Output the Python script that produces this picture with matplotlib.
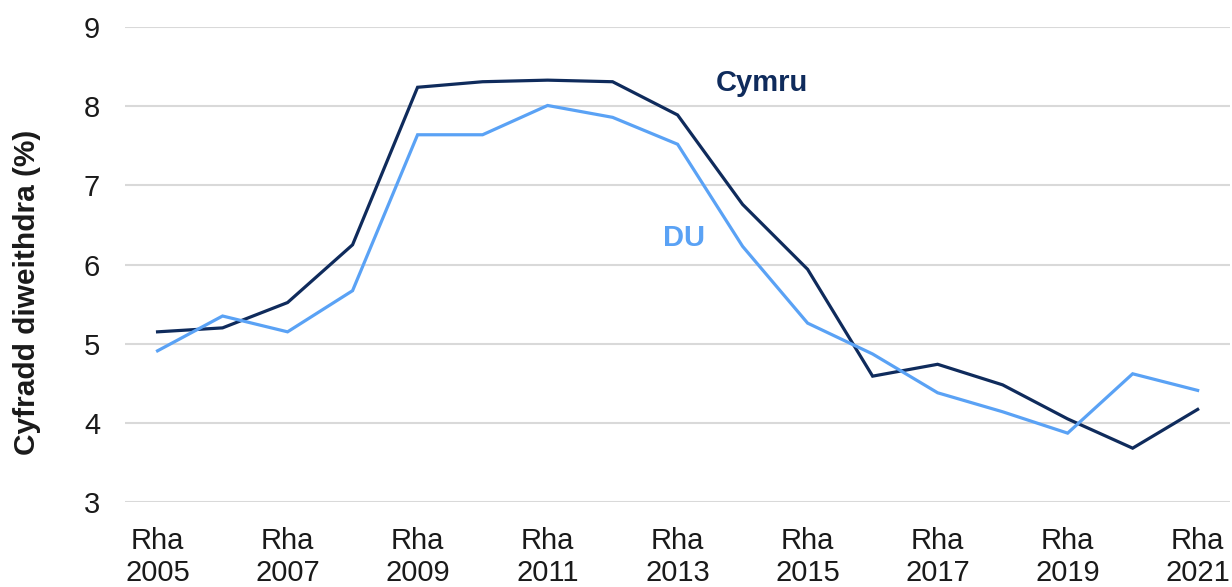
import matplotlib.pyplot as plt
import numpy as np

plt.rcParams['font.family'] = ['Liberation Sans', 'DejaVu Sans']

# Data
years = list(range(2005, 2022))
cymru = [5.15, 5.20, 5.52, 6.25, 8.24, 8.31, 8.33, 8.31, 7.89, 6.76, 5.94,
         4.59, 4.74, 4.48, 4.05, 3.68, 4.17]
du = [4.91, 5.35, 5.15, 5.67, 7.64, 7.64, 8.01, 7.86, 7.52, 6.23, 5.26,
      4.87, 4.38, 4.14, 3.87, 4.62, 4.41]
tick_labels = ['Rha\n%d' % y for y in years[::2]]

c_cymru = '#0f2b5c'
c_du = '#5aa2f5'

fig = plt.figure(figsize=(12.32, 5.87), dpi=100)
ax = fig.add_axes([0.1015, 0.1448, 0.897, 0.809])

x = np.arange(len(years))
ax.plot(x, cymru, color=c_cymru, lw=2.3, solid_joinstyle='miter')
ax.plot(x, du, color=c_du, lw=2.3, solid_joinstyle='miter')

ax.set_xlim(-0.5, len(years) - 0.5)
ax.set_ylim(3, 9)
ax.set_yticks(range(3, 10))
ax.set_xticks(x[::2])
ax.set_xticklabels(tick_labels, linespacing=1.2)
ax.tick_params(axis='both', length=0, labelsize=21, labelcolor='#1a1a1a')
ax.tick_params(axis='x', pad=18)
ax.tick_params(axis='y', pad=18)

ax.grid(axis='y', color='#d9d9d9', lw=1.5)
ax.set_axisbelow(True)
for s in ax.spines.values():
    s.set_visible(False)

ax.set_ylabel('Cyfradd diweithdra (%)', fontsize=21.5, fontweight='bold',
              color='#1a1a1a')
ax.yaxis.set_label_coords(-0.076, 0.442)

ax.text(9.3, 8.3, 'Cymru', color=c_cymru, fontsize=21, fontweight='bold',
        ha='center', va='center')
ax.text(8.1, 6.33, 'DU', color=c_du, fontsize=21, fontweight='bold',
        ha='center', va='center')

fig.savefig('out.png', dpi=100)
